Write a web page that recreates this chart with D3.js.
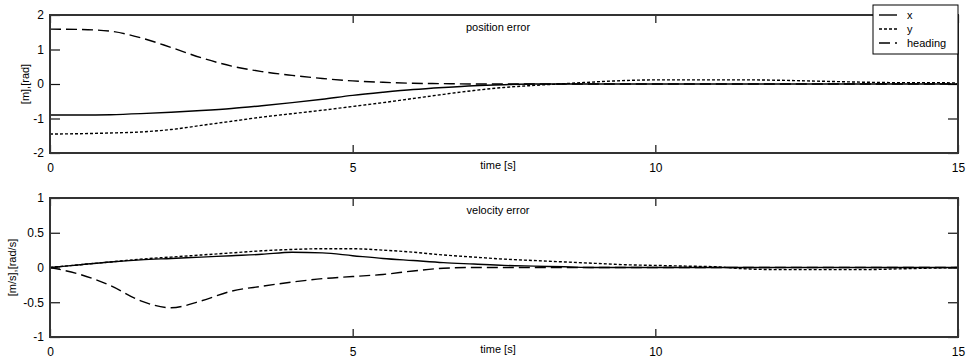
<!DOCTYPE html>
<html>
<head>
<meta charset="utf-8">
<script src="https://cdn.jsdelivr.net/npm/d3@7"></script>
<style>
  body { margin: 0; background: #fff; }
  text { font-family: "Liberation Sans", Arial, sans-serif; fill: #000; }
</style>
</head>
<body>
<svg id="chart" width="966" height="361"></svg>
<script>
// time samples [s]
const time = [0, 0.5, 1, 1.5, 2, 2.5, 3, 3.5, 4, 4.5, 5, 5.5, 6, 6.5, 7, 7.5, 8, 8.5, 9, 9.5, 10, 10.5, 11, 11.5, 12, 12.5, 13, 13.5, 14, 14.5, 15];

// position error
const posX = [-0.9, -0.9, -0.89, -0.86, -0.82, -0.77, -0.71, -0.63, -0.54, -0.44, -0.33, -0.24, -0.16, -0.1, -0.05, -0.02, 0, 0, 0, 0, 0, 0, 0, 0, 0, 0, 0, 0, 0, 0, 0];
const posY = [-1.45, -1.44, -1.42, -1.39, -1.32, -1.2, -1.08, -0.96, -0.86, -0.76, -0.65, -0.54, -0.42, -0.3, -0.19, -0.1, -0.04, 0.01, 0.06, 0.1, 0.12, 0.12, 0.12, 0.12, 0.11, 0.09, 0.07, 0.05, 0.04, 0.04, 0.03];
const posHeading = [1.59, 1.58, 1.53, 1.34, 1.06, 0.76, 0.52, 0.36, 0.25, 0.16, 0.09, 0.05, 0.02, 0.01, 0, 0, 0, 0, 0, 0, 0, 0, 0, 0, 0, 0, 0, 0, 0, 0, 0];

// velocity error
const velX = [0, 0.04, 0.08, 0.11, 0.13, 0.15, 0.17, 0.19, 0.22, 0.21, 0.17, 0.13, 0.1, 0.07, 0.05, 0.03, 0.02, 0.01, 0, 0, 0, 0, 0, 0, 0, 0, 0, 0, 0, 0, 0];
const velY = [0, 0.04, 0.08, 0.12, 0.15, 0.18, 0.21, 0.24, 0.26, 0.27, 0.27, 0.25, 0.22, 0.18, 0.15, 0.12, 0.1, 0.08, 0.06, 0.04, 0.03, 0.02, 0.01, -0.02, -0.03, -0.03, -0.03, -0.03, -0.02, -0.01, 0];
const velHeading = [0, -0.1, -0.26, -0.48, -0.58, -0.48, -0.34, -0.27, -0.21, -0.16, -0.13, -0.1, -0.05, -0.01, 0, 0, 0, 0, 0, 0, 0, 0, 0, 0, 0, 0, 0, 0, 0, 0, 0];

const xTicks = [0, 5, 10, 15];
const posTicks = [-2, -1, 0, 1, 2];
const velTicks = [-1, -0.5, 0, 0.5, 1];
const seriesNames = ["x", "y", "heading"];
const dashes = [null, "3,2", "11,5"];

const svg = d3.select("#chart");

function drawPanel(opts) {
  let x = d3.scaleLinear().domain([0, 15]).range([50, 958]);
  let y = d3.scaleLinear().domain(opts.domain).range([opts.bottom, opts.top]);
  let g = svg.append("g");

  // inward ticks, MATLAB style
  g.append("g")
    .attr("transform", "translate(0," + opts.bottom + ")")
    .call(d3.axisBottom(x).tickValues(xTicks).tickSize(-8).tickPadding(10).tickFormat(d3.format("d")));
  g.append("g")
    .attr("transform", "translate(0," + opts.top + ")")
    .call(d3.axisTop(x).tickValues(xTicks).tickSize(-8).tickFormat(""));
  g.append("g")
    .attr("transform", "translate(50,0)")
    .call(d3.axisLeft(y).tickValues(opts.ticks).tickSize(-10).tickPadding(6).tickFormat(d => d));
  g.append("g")
    .attr("transform", "translate(958,0)")
    .call(d3.axisRight(y).tickValues(opts.ticks).tickSize(-10).tickFormat(""));

  g.selectAll(".domain").remove();
  g.selectAll(".tick line").attr("stroke", "#111").attr("stroke-width", 1.2);
  g.selectAll(".tick text").attr("font-size", 12).attr("fill", "#000")
    .attr("font-family", "Liberation Sans, Arial, sans-serif");

  let line = d3.line().x((d, i) => x(time[i])).y(d => y(d)).curve(d3.curveMonotoneX);
  opts.series.forEach((s, k) => {
    g.append("path")
      .datum(s)
      .attr("d", line)
      .attr("fill", "none")
      .attr("stroke", "#000")
      .attr("stroke-width", 1.4)
      .attr("stroke-dasharray", dashes[k]);
  });

  g.append("rect")
    .attr("x", 50).attr("y", opts.top)
    .attr("width", 908).attr("height", opts.bottom - opts.top)
    .attr("fill", "none").attr("stroke", "#333").attr("stroke-width", 2);

  g.append("text")
    .attr("x", 498).attr("y", opts.top + 16)
    .attr("text-anchor", "middle").attr("font-size", 11)
    .text(opts.title);
  g.append("text")
    .attr("x", 498).attr("y", opts.bottom + 16)
    .attr("text-anchor", "middle").attr("font-size", 11)
    .text("time [s]");
  g.append("text")
    .attr("transform", "translate(" + opts.ylabX + "," + ((opts.top + opts.bottom) / 2) + ") rotate(-90)")
    .attr("text-anchor", "middle").attr("font-size", 11)
    .text(opts.ylabel);
}

drawPanel({ top: 15, bottom: 153, domain: [-2, 2], ticks: posTicks,
  series: [posX, posY, posHeading], title: "position error", ylabel: "[m],[rad]", ylabX: 29 });
drawPanel({ top: 198, bottom: 337, domain: [-1, 1], ticks: velTicks,
  series: [velX, velY, velHeading], title: "velocity error", ylabel: "[m/s],[rad/s]", ylabX: 16 });

// legend
let legend = svg.append("g").attr("class", "legend");
legend.append("rect")
  .attr("x", 873).attr("y", 5).attr("width", 85).attr("height", 49)
  .attr("fill", "#fff").attr("stroke", "#000").attr("stroke-width", 1);
seriesNames.forEach((name, i) => {
  let ly = 15 + i * 14;
  legend.append("line")
    .attr("x1", 879).attr("x2", 897).attr("y1", ly).attr("y2", ly)
    .attr("stroke", "#000").attr("stroke-width", 1.4)
    .attr("stroke-dasharray", dashes[i]);
  legend.append("text")
    .attr("x", 907).attr("y", ly + 4)
    .attr("font-size", 11)
    .text(name);
});
</script>
</body>
</html>
